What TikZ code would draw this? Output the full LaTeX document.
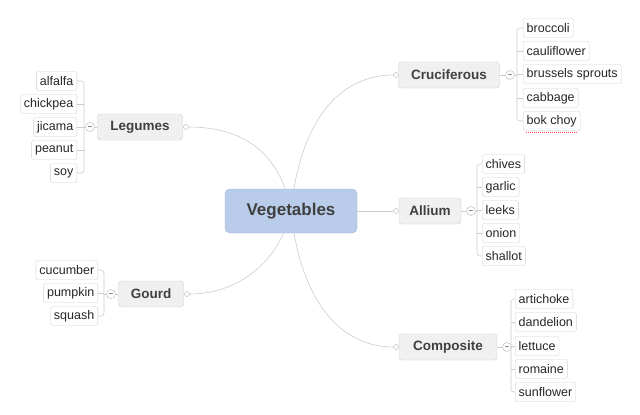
\documentclass[tikz,border=0pt]{standalone}
\usepackage{fontspec}
\setmainfont{Liberation Sans}
\begin{document}
\begin{tikzpicture}[x=1pt,y=-1pt,
  leaf/.style={draw=black!18,fill=white,rounded corners=2pt,font=\fontsize{12.5}{14}\selectfont,text=black!85,inner xsep=3.5pt,inner ysep=2pt,minimum height=19pt},
  topic/.style={draw=black!20,fill=black!6,rounded corners=3pt,font=\bfseries\fontsize{13.5}{15}\selectfont,text=black!75,minimum height=26pt,inner xsep=4pt},
  conn/.style={draw=black!20,line width=0.6pt},
  knob/.style={circle,draw=black!30,fill=white,inner sep=0pt,minimum size=5pt},
  minus/.style={circle,draw=black!30,fill=white,inner sep=0pt,minimum size=9pt,font=\fontsize{7}{7}\selectfont}]
\useasboundingbox (0,0) rectangle (640,415);
% topics
\node[topic,minimum width=101pt] (cru) at (449,75) {Cruciferous};
\node[topic,minimum width=62pt] (all) at (430,211) {Allium};
\node[topic,minimum width=98pt] (com) at (448,347) {Composite};
\node[topic,minimum width=85pt] (leg) at (140,127) {Legumes};
\node[topic,minimum width=65pt] (gou) at (151,294) {Gourd};
% knobs
\node[knob] (kcru) at (396,75) {};
\node[knob] (kall) at (396,211) {};
\node[knob] (kcom) at (396,347) {};
\node[knob] (kleg) at (186,127) {};
\node[knob] (kgou) at (187,294) {};
% central connectors
\coordinate (c) at (291,211);
\draw[conn] (c) .. controls (300,120) and (340,75) .. (kcru);
\draw[conn] (c) -- (kall);
\draw[conn] (c) .. controls (300,300) and (340,347) .. (kcom);
\draw[conn] (c) .. controls (280,150) and (240,127) .. (kleg);
\draw[conn] (c) .. controls (280,260) and (240,294) .. (kgou);
\node[draw={rgb,255:red,160;green,180;blue,215},fill={rgb,255:red,185;green,204;blue,234},rounded corners=5pt,minimum width=132pt,minimum height=44pt,font=\bfseries\fontsize{17}{19}\selectfont,text=black!75] (veg) at (c) {Vegetables};
% minus circles
\node[minus] (mcru) at (510,75) {--};
\node[minus] (mall) at (471,211) {--};
\node[minus] (mcom) at (507,347) {--};
\node[minus] (mleg) at (90,127) {--};
\node[minus] (mgou) at (111,294) {--};
\draw[conn] (cru) -- (mcru); \draw[conn] (all) -- (mall); \draw[conn] (com) -- (mcom);
\draw[conn] (leg) -- (mleg); \draw[conn] (gou) -- (mgou);
% leaves
\foreach \t/\y [count=\i] in {broccoli/28,cauliflower/51,brussels sprouts/74,cabbage/98,bok choy/121}
  \node[leaf,anchor=west] (cr\i) at (523,\y) {\t};
\foreach \t/\y [count=\i] in {chives/164,garlic/187,leeks/210,onion/233,shallot/256}
  \node[leaf,anchor=west] (al\i) at (482,\y) {\t};
\foreach \t/\y [count=\i] in {artichoke/299,dandelion/322,lettuce/346,romaine/369,sunflower/392}
  \node[leaf,anchor=west] (co\i) at (515,\y) {\t};
\foreach \t/\y [count=\i] in {alfalfa/81,chickpea/104,jicama/127,peanut/150,soy/173}
  \node[leaf,anchor=east] (le\i) at (77,\y) {\t};
\foreach \t/\y [count=\i] in {cucumber/270,pumpkin/293,squash/316}
  \node[leaf,anchor=east] (go\i) at (98,\y) {\t};
% red squiggle under bok choy
\draw[red!70,line width=0.5pt,dash pattern=on 1pt off 1pt] ([xshift=3pt,yshift=-2pt]cr5.south west) -- ([xshift=-3pt,yshift=-2pt]cr5.south east);
% brackets
\draw[conn,rounded corners=3pt] (cr1.west) -| (517,75) |- (cr5.west);
\draw[conn] (mcru) -- (517,75);
\foreach \i in {2,3,4} \draw[conn] (517,0 |- cr\i.west) -- (cr\i.west);
\draw[conn,rounded corners=3pt] (al1.west) -| (477,211) |- (al5.west);
\draw[conn] (mall) -- (477,211);
\foreach \i in {2,3,4} \draw[conn] (477,0 |- al\i.west) -- (al\i.west);
\draw[conn,rounded corners=3pt] (co1.west) -| (511,347) |- (co5.west);
\foreach \i in {2,3,4} \draw[conn] (511,0 |- co\i.west) -- (co\i.west);
\draw[conn,rounded corners=3pt] (le1.east) -| (84,127) |- (le5.east);
\draw[conn] (mleg) -- (84,127);
\foreach \i in {2,3,4} \draw[conn] (84,0 |- le\i.east) -- (le\i.east);
\draw[conn,rounded corners=3pt] (go1.east) -| (104,294) |- (go3.east);
\draw[conn] (mgou) -- (104,294);
\draw[conn] (104,0 |- go2.east) -- (go2.east);
\end{tikzpicture}
\end{document}
